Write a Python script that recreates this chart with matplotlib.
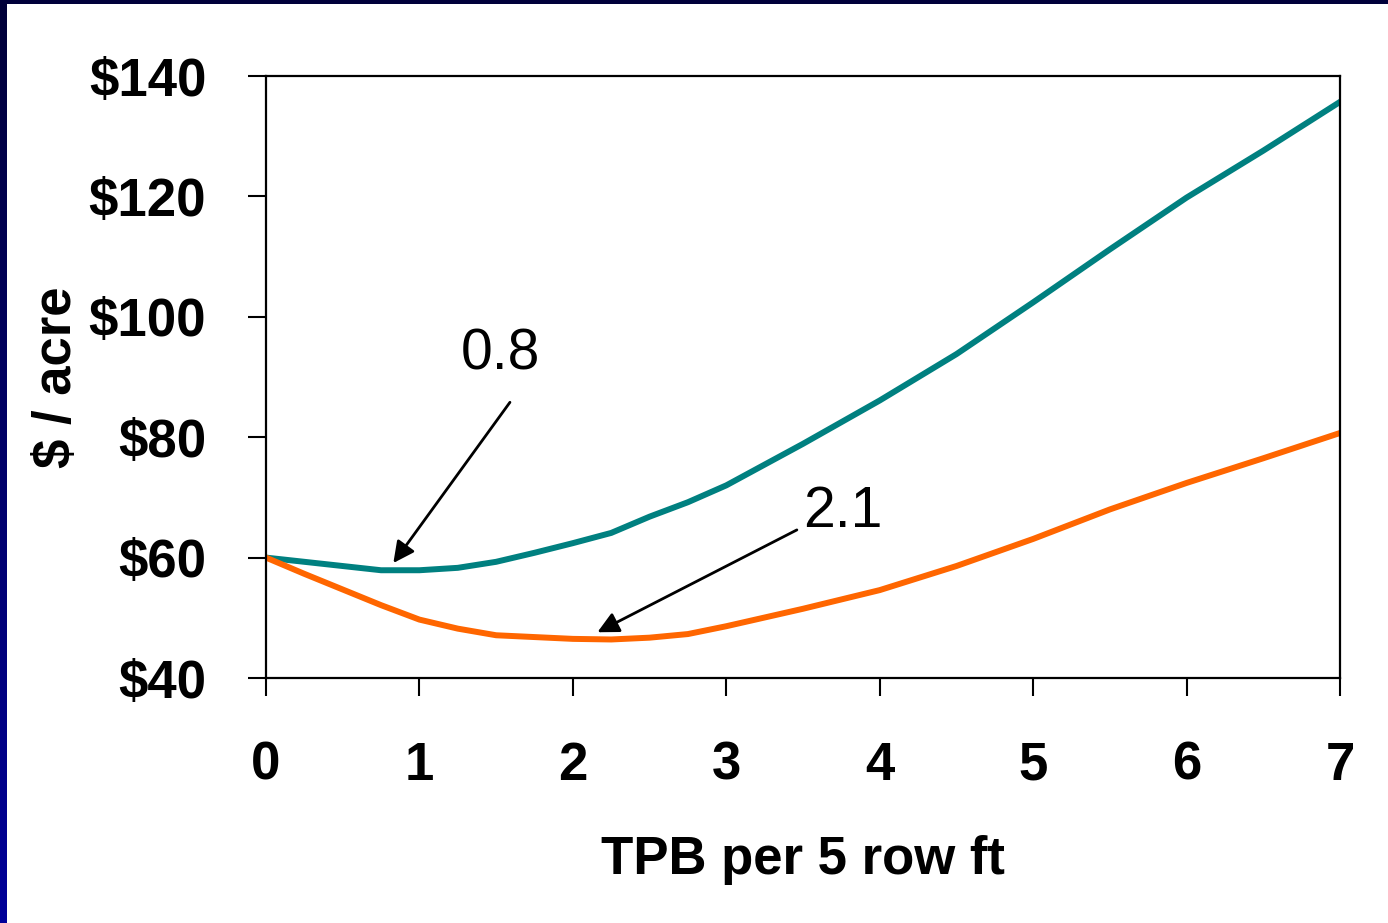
import numpy as np
import matplotlib
matplotlib.use("Agg")
import matplotlib.pyplot as plt
from matplotlib.ticker import FuncFormatter

# TPB density (per 5 row ft) and cost per acre for the two curves
tpb_teal = [0, 0.25, 0.5, 0.75, 1, 1.25, 1.5, 1.75, 2, 2.25, 2.5, 2.75, 3,
            3.5, 4, 4.5, 5, 5.5, 6, 6.5, 7]
cost_teal = [60, 59.3, 58.6, 57.9, 57.9, 58.3, 59.3, 60.8, 62.4, 64.1, 66.8, 69.2, 72.0,
             78.9, 86.1, 93.8, 102.4, 111.2, 119.8, 127.6, 135.7]

tpb_orange = [0, 0.25, 0.5, 0.75, 1, 1.25, 1.5, 1.75, 2, 2.25, 2.5, 2.75, 3,
              3.5, 4, 4.5, 5, 5.5, 6, 6.5, 7]
cost_orange = [60, 57.3, 54.7, 52.1, 49.7, 48.2, 47.1, 46.8, 46.5, 46.4, 46.7, 47.3, 48.6,
               51.5, 54.6, 58.6, 63.1, 68.0, 72.4, 76.5, 80.7]

# optimum thresholds marked with arrows
opt_teal = (0.83, 59.1)
opt_orange = (2.16, 47.6)

x_ticks = [0, 1, 2, 3, 4, 5, 6, 7]
y_ticks = [40, 60, 80, 100, 120, 140]

plt.rcParams['font.family'] = ['Liberation Sans', 'DejaVu Sans']

fig = plt.figure(figsize=(13.88, 9.23), dpi=100)
fig.patch.set_facecolor('white')

# slide frame: gradient bar on the left, dark strip along the top
frame_l = fig.add_axes([0, 0, 7 / 1388, 1])
grad = np.linspace(0, 1, 256)
cols = np.zeros((256, 1, 3))
cols[:, 0, 2] = 0.22 + 0.38 * grad
frame_l.imshow(cols, aspect='auto', origin='upper', extent=[0, 1, 0, 1])
frame_l.axis('off')
frame_t = fig.add_axes([0, 1 - 4 / 923, 1, 4 / 923])
frame_t.set_facecolor('#00003a')
frame_t.set_xticks([])
frame_t.set_yticks([])
for s in frame_t.spines.values():
    s.set_visible(False)

ax = fig.add_axes([266 / 1388, 1 - 678 / 923, (1340 - 266) / 1388, (678 - 76) / 923])
ax.plot(tpb_teal, cost_teal, color='#008080', lw=4.3)
ax.plot(tpb_orange, cost_orange, color='#FF6600', lw=4.3)

ax.set_xlim(0, 7)
ax.set_ylim(40, 140)
ax.set_xticks(x_ticks)
ax.set_yticks(y_ticks)
ax.yaxis.set_major_formatter(FuncFormatter(lambda v, p: f'${v:.0f}'))
ax.tick_params(axis='both', direction='out', length=13, width=1.5, pad=32,
               labelsize=38)
ax.tick_params(axis='y', pad=30)
for lab in ax.get_xticklabels() + ax.get_yticklabels():
    lab.set_fontweight('bold')
for s in ax.spines.values():
    s.set_linewidth(1.6)

ax.set_xlabel('TPB per 5 row ft', fontsize=38, fontweight='bold', labelpad=32)
ax.set_ylabel('$ / acre', fontsize=38, fontweight='bold')
ax.yaxis.set_label_coords(-0.171, 0.5)

arrow = dict(arrowstyle='-|>', color='black', lw=2, mutation_scale=32,
             shrinkA=0, shrinkB=0)
ax.annotate('', xy=opt_teal, xytext=(1.59, 85.8), arrowprops=arrow)
ax.text(1.53, 93.7, '0.8', fontsize=41, ha='center', va='center')
ax.annotate('', xy=opt_orange, xytext=(3.46, 64.6), arrowprops=arrow)
ax.text(3.76, 67.6, '2.1', fontsize=41, ha='center', va='center')

fig.savefig('out.png', dpi=100)
